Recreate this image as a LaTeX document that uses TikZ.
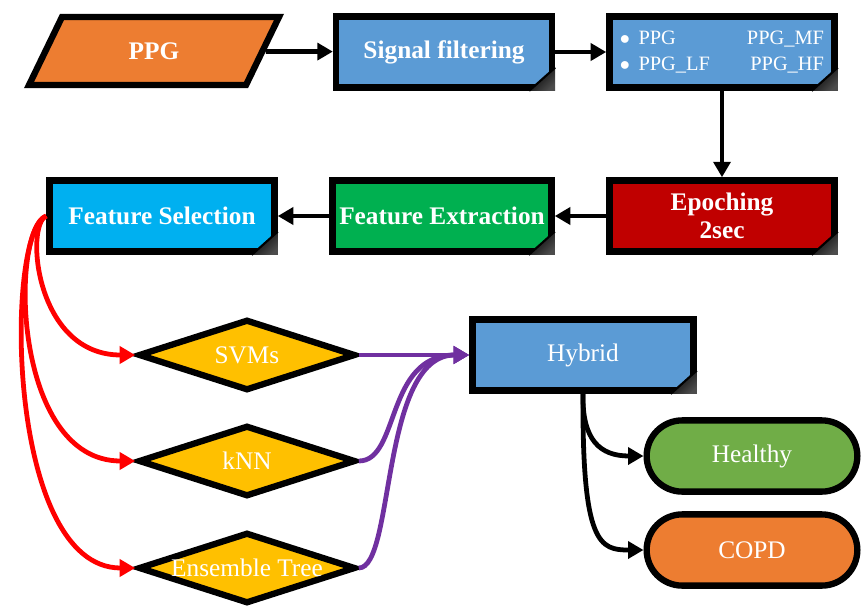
\documentclass[tikz,border=0pt]{standalone}
\usepackage{fontspec}
\setmainfont{Liberation Serif}
\usetikzlibrary{shapes.geometric, shapes.misc, arrows.meta}

\definecolor{ppgorange}{HTML}{ED7D31}
\definecolor{boxblue}{HTML}{5B9BD5}
\definecolor{epored}{HTML}{C00000}
\definecolor{fexgreen}{HTML}{00B050}
\definecolor{fselcyan}{HTML}{00B0F0}
\definecolor{clsgold}{HTML}{FFC000}
\definecolor{healthygreen}{HTML}{70AD47}
\definecolor{mixpurple}{HTML}{7030A0}
\definecolor{selred}{HTML}{FF0000}

\begin{document}
\begin{tikzpicture}[x=0.025cm, y=-0.025cm]
    % Styles
    \tikzstyle{box} = [draw, rectangle, line width=4.5pt, minimum height=1.78cm, text=white, font=\fontsize{18}{20}\selectfont\bfseries, align=center, inner sep=2pt]
    \tikzstyle{choice} = [draw, diamond, line width=4.5pt, fill=clsgold, minimum width=5.43cm, minimum height=1.78cm, inner sep=0pt, text=white, font=\fontsize{18}{20}\selectfont]
    \tikzstyle{result} = [draw, rounded rectangle, line width=4.5pt, minimum width=5.5cm, minimum height=1.78cm, text=white, font=\fontsize{18}{20}\selectfont]
    \tikzstyle{flow} = [line width=3.4pt, -{Triangle[length=11pt, width=12pt]}]

    \useasboundingbox (0,0) rectangle (861,606);

    % Nodes
    \node[box, trapezium, trapezium stretches=true, trapezium left angle=66, trapezium right angle=114, minimum width=6.25cm, minimum height=1.7cm, fill=ppgorange] (ppg) at (154, 51) {PPG};
    \node[box, fill=boxblue, minimum width=5.4cm] (sig) at (444, 52) {Signal filtering};
    \node[box, fill=boxblue, minimum width=5.63cm, font=\fontsize{14.5}{18.4}\selectfont] (lst) at (722, 52)
        {\begin{tabular*}{5.1cm}{@{}l@{\extracolsep{\fill}}r@{}}$\bullet$\hspace{6pt}PPG & PPG\_MF\\ $\bullet$\hspace{6pt}PPG\_LF & PPG\_HF\end{tabular*}};
    \node[box, fill=epored, minimum width=5.63cm] (epo) at (722, 216) {Epoching\\2sec};
    \node[box, fill=fexgreen, minimum width=5.48cm] (fex) at (442, 216) {Feature Extraction};
    \node[box, fill=fselcyan, minimum width=5.63cm] (fsel) at (162, 216) {Feature Selection};

    \node[choice] (svm) at (247, 355) {\makebox[0pt]{SVMs}};
    \node[choice] (knn) at (247, 461) {\makebox[0pt]{kNN}};
    \node[choice] (ens) at (247, 568) {\makebox[0pt]{Ensemble Tree}};

    \node[box, fill=boxblue, minimum width=5.53cm, font=\fontsize{18}{20}\selectfont] (hyb) at (583, 355) {Hybrid};
    \node[result, fill=healthygreen] (hea) at (752, 456) {Healthy};
    \node[result, fill=ppgorange] (copd) at (752, 550) {COPD};

    % Folded corners
    \foreach \n in {sig, lst, epo, fex, fsel, hyb} {
        \shade[left color=black, right color=black!70, shading angle=45] ([xshift=-0.65cm]\n.south east) -- (\n.south east) -- ([yshift=0.58cm]\n.south east) -- cycle;
        \draw[line width=1.5pt] ([xshift=-0.65cm]\n.south east) -- ([yshift=0.58cm]\n.south east);
    }

    % Flow arrows
    \draw[flow] (ppg) -- (sig);
    \draw[flow] (sig) -- (lst);
    \draw[flow] (lst) -- (epo);
    \draw[flow] (epo) -- (fex);
    \draw[flow] (fex) -- (fsel);

    % Feature selection to classifiers
    \draw[flow, selred] (fsel.west) .. controls (25, 225) and (35, 355) .. (svm.west);
    \draw[flow, selred] (fsel.west) .. controls (10, 230) and (12, 461) .. (knn.west);
    \draw[flow, selred] (fsel.west) .. controls (5, 230) and (5, 568) .. (ens.west);

    % Classifiers to hybrid
    \draw[flow, mixpurple] (svm.east) -- (hyb.west);
    \draw[flow, mixpurple] (knn.east) .. controls (400, 461) and (385, 355) .. (hyb.west);
    \draw[flow, mixpurple] (ens.east) .. controls (395, 568) and (380, 355) .. (hyb.west);

    % Decision
    \draw[flow] (hyb.south) .. controls (582, 440) and (600, 456) .. (hea.west);
    \draw[flow] (hyb.south) .. controls (582, 545) and (600, 550) .. (copd.west);
\end{tikzpicture}
\end{document}
